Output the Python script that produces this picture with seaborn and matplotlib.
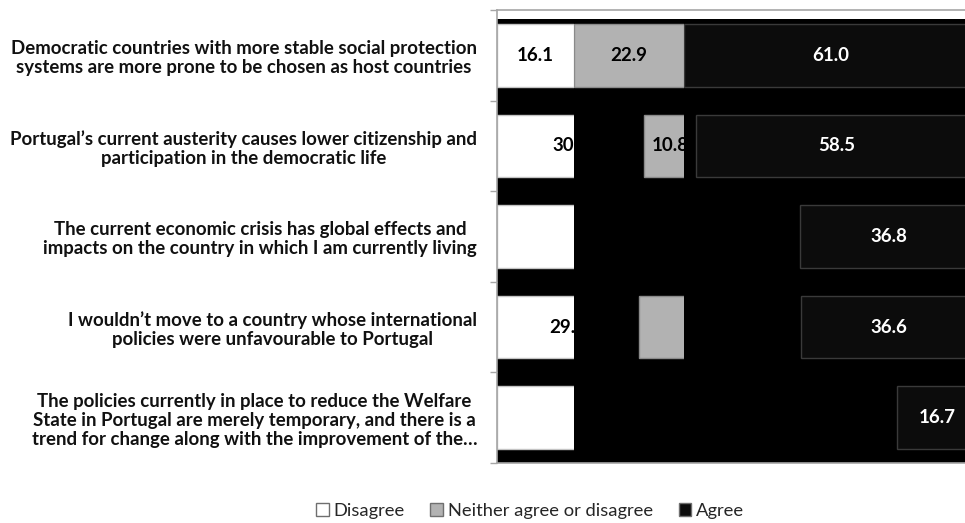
import numpy as np
import pandas as pd
import matplotlib
matplotlib.use("Agg")
import matplotlib.pyplot as plt
from matplotlib.patches import Rectangle, Patch
from matplotlib.transforms import Bbox, TransformedBbox
import seaborn as sns

# Survey statements (top to bottom) and answer shares in %
statements = [
    "Democratic countries with more stable social protection\nsystems are more prone to be chosen as host countries",
    "Portugal’s current austerity causes lower citizenship and\nparticipation in the democratic life",
    "The current economic crisis has global effects and\nimpacts on the country in which I am currently living",
    "I wouldn’t move to a country whose international\npolicies were unfavourable to Portugal",
    "The policies currently in place to reduce the Welfare\nState in Portugal are merely temporary, and there is a\ntrend for change along with the improvement of the…",
]
series_names = ["Disagree", "Neither agree or disagree", "Agree"]
disagree = [16.1, 30.7, 44.9, 29.6, 45.2]
neutral = [22.9, 10.8, 18.3, 33.8, 38.1]
agree = [61.0, 58.5, 36.8, 36.6, 16.7]

sns.set_theme(style="white")
plt.rcParams["font.family"] = ["Lato", "DejaVu Sans"]

df = pd.DataFrame({
    "statement": statements,
    series_names[0]: disagree,
    series_names[1]: neutral,
    series_names[2]: agree,
})

fig = plt.figure(figsize=(9.65, 5.23), dpi=100)
ax = fig.add_axes([497 / 965, 60 / 523, 480 / 965, 453 / 523])
ax.set_facecolor("black")

styles = [
    ("#ffffff", "#c4c4c4", "black"),
    ("#b2b2b2", "#8a8a8a", "black"),
    ("#0c0c0c", "#3a3a3a", "white"),
]

left = np.zeros(len(statements))
for name, (face, edge, txt) in zip(series_names, styles):
    vals = df[name].to_numpy()
    sns.barplot(data=df, x=name, y="statement", orient="h", color=face,
                saturation=1, width=0.69, errorbar=None, left=left,
                edgecolor=edge, linewidth=1, ax=ax)
    cont = ax.containers[-1]
    # each series is only rendered inside the band it spans on the first row
    x0, x1 = left[0], left[0] + vals[0]
    band = Rectangle((x0, -1), x1 - x0, 7, transform=ax.transData)
    band_box = TransformedBbox(Bbox([[x0, -1], [x1, 6]]), ax.transData)
    for bar in cont:
        bar.set_clip_path(band)
    for i, (lft, v) in enumerate(zip(left, vals)):
        t = ax.text(lft + v / 2, i, f"{v:.1f}", ha="center", va="center",
                    color=txt, fontweight="bold", fontsize=13.5)
        t.set_clip_on(True)
        t.set_clip_box(band_box)
    left = left + vals

ax.set_xlim(0, 100)
ax.set_ylim(4.5, -0.5)
ax.axhspan(-0.5, -0.4, color="white", zorder=0.5, lw=0)
ax.set_xticks([])
ax.set_xlabel("")
ax.set_ylabel("")

ax.set_yticks(range(len(statements)))
ax.set_yticklabels(statements, fontsize=13.4, fontweight="bold", color="#111111",
                   linespacing=1.15)
for lab in ax.get_yticklabels():
    lab.set_multialignment("center")
ax.set_yticks(np.arange(-0.5, len(statements), 1), minor=True)
ax.tick_params(axis="y", which="major", length=0, pad=14.4)
ax.tick_params(axis="y", which="minor", left=True, length=5, width=1,
               color="#a6a6a6", direction="out")

for side in ["left", "top", "bottom"]:
    ax.spines[side].set_visible(True)
    ax.spines[side].set_color("#a6a6a6")
    ax.spines[side].set_linewidth(1.2)
ax.spines["right"].set_visible(False)

handles = [Patch(facecolor=f, edgecolor="#6f6f6f", label=n)
           for n, (f, e, t) in zip(series_names, styles)]
fig.legend(handles=handles, loc="center", bbox_to_anchor=(530 / 965, 1 - 511 / 523),
           ncol=3, frameon=False, fontsize=13.2, handlelength=0.7,
           handleheight=0.7, handletextpad=0.25, columnspacing=1.4)

fig.savefig("out.png", dpi=100, facecolor="white")
